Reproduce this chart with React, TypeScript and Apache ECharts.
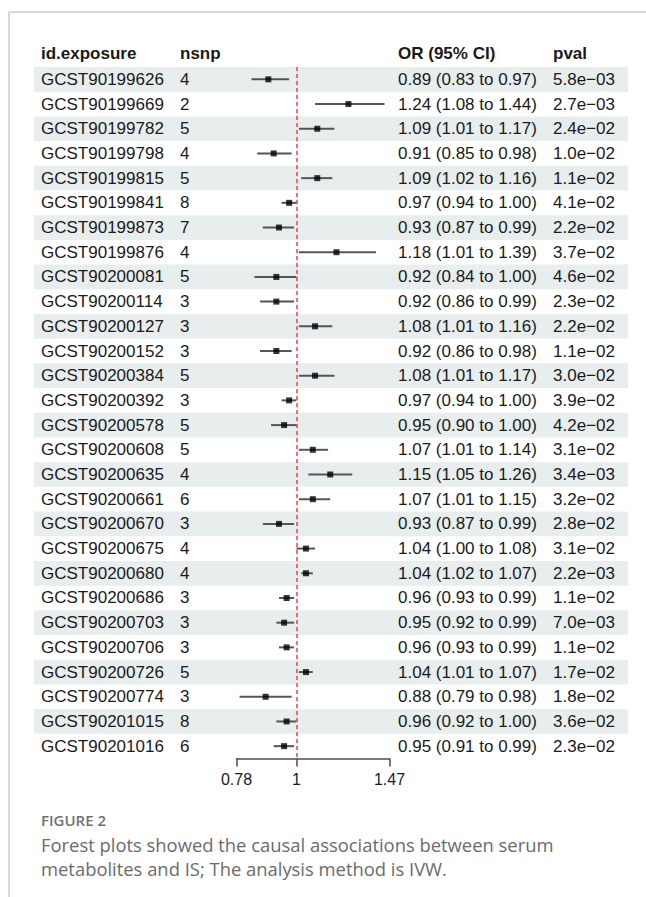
import React, { useEffect, useRef } from "react";
import * as echarts from "echarts";

const ids = [
  "GCST90199626", "GCST90199669", "GCST90199782", "GCST90199798", "GCST90199815",
  "GCST90199841", "GCST90199873", "GCST90199876", "GCST90200081", "GCST90200114",
  "GCST90200127", "GCST90200152", "GCST90200384", "GCST90200392", "GCST90200578",
  "GCST90200608", "GCST90200635", "GCST90200661", "GCST90200670", "GCST90200675",
  "GCST90200680", "GCST90200686", "GCST90200703", "GCST90200706", "GCST90200726",
  "GCST90200774", "GCST90201015", "GCST90201016",
];
const nsnp = [4, 2, 5, 4, 5, 8, 7, 4, 5, 3, 3, 3, 5, 3, 5, 5, 4, 6, 3, 4, 4, 3, 3, 3, 5, 3, 8, 6];
const orVals = [0.89, 1.24, 1.09, 0.91, 1.09, 0.97, 0.93, 1.18, 0.92, 0.92, 1.08, 0.92, 1.08, 0.97, 0.95, 1.07, 1.15, 1.07, 0.93, 1.04, 1.04, 0.96, 0.95, 0.96, 1.04, 0.88, 0.96, 0.95];
const lower = [0.83, 1.08, 1.01, 0.85, 1.02, 0.94, 0.87, 1.01, 0.84, 0.86, 1.01, 0.86, 1.01, 0.94, 0.90, 1.01, 1.05, 1.01, 0.87, 1.00, 1.02, 0.93, 0.92, 0.93, 1.01, 0.79, 0.92, 0.91];
const upper = [0.97, 1.44, 1.17, 0.98, 1.16, 1.00, 0.99, 1.39, 1.00, 0.99, 1.16, 0.98, 1.17, 1.00, 1.00, 1.14, 1.26, 1.15, 0.99, 1.08, 1.07, 0.99, 0.99, 0.99, 1.07, 0.98, 1.00, 0.99];
const pvals = [
  "5.8e\u221203", "2.7e\u221203", "2.4e\u221202", "1.0e\u221202", "1.1e\u221202",
  "4.1e\u221202", "2.2e\u221202", "3.7e\u221202", "4.6e\u221202", "2.3e\u221202",
  "2.2e\u221202", "1.1e\u221202", "3.0e\u221202", "3.9e\u221202", "4.2e\u221202",
  "3.1e\u221202", "3.4e\u221203", "3.2e\u221202", "2.8e\u221202", "3.1e\u221202",
  "2.2e\u221203", "1.1e\u221202", "7.0e\u221203", "1.1e\u221202", "1.7e\u221202",
  "1.8e\u221202", "3.6e\u221202", "2.3e\u221202",
];
const tickValues = [0.78, 1, 1.47];
const tickLabels = ["0.78", "1", "1.47"];
const headers = ["id.exposure", "nsnp", "OR (95% CI)", "pval"];
const figureLabel = "FIGURE 2";
const captionLines = [
  "Forest plots showed the causal associations between serum",
  "metabolites and IS; The analysis method is IVW.",
];

const TABLE_FONT = "Liberation Sans, Arial, Helvetica, sans-serif";
const CAPTION_FONT = "Open Sans, Noto Sans, sans-serif";
const colX = [41, 180, 398, 553];

export default function App() {
  const ref = useRef<HTMLDivElement>(null);

  useEffect(() => {
    if (!ref.current) return;
    const chart = echarts.init(ref.current, null, { renderer: "svg" });

    const logTicks = tickValues.map((v) => Math.log(v));
    const orText = orVals.map(
      (v, i) => `${v.toFixed(2)} (${lower[i].toFixed(2)} to ${upper[i].toFixed(2)})`
    );

    const option: any = {
      animation: false,
      backgroundColor: "#ffffff",
      grid: {
        left: 236.5,
        top: 67,
        width: 153,
        height: 691.5,
        containLabel: false,
        outerBoundsMode: "none",
      },
      xAxis: {
        type: "value",
        min: Math.log(0.78),
        max: Math.log(1.47),
        splitLine: { show: false },
        axisLine: { show: true, lineStyle: { color: "#4d4d4d", width: 1.5 } },
        axisTick: {
          show: true,
          length: 8,
          lineStyle: { color: "#4d4d4d", width: 1.5 },
          customValues: logTicks,
        },
        axisLabel: {
          customValues: logTicks,
          margin: 13,
          color: "#1a1a1a",
          fontSize: 16,
          fontFamily: TABLE_FONT,
          formatter: (val: number) => {
            let best = 0;
            logTicks.forEach((t, i) => {
              if (Math.abs(t - val) < Math.abs(logTicks[best] - val)) best = i;
            });
            return tickLabels[best];
          },
        },
      },
      yAxis: {
        type: "category",
        data: ids,
        inverse: true,
        show: false,
      },
      series: [
        {
          type: "custom",
          name: "rows",
          z: 1,
          clip: false,
          silent: true,
          data: ids.map((_, i) => [0, i]),
          encode: { x: 0, y: 1 },
          renderItem: (params: any, api: any) => {
            const idx = api.value(1);
            const c = api.coord([0, idx]);
            const h = api.size([0, 1])[1];
            const yc = c[1];
            const textStyle = (t: string, x: number) => ({
              type: "text",
              x,
              y: yc,
              style: {
                text: t,
                fill: "#1a1a1a",
                font: `17px ${TABLE_FONT}`,
                align: "left",
                verticalAlign: "middle",
              },
            });
            const children: any[] = [];
            if (idx % 2 === 0) {
              children.push({
                type: "rect",
                shape: { x: 34, y: yc - h / 2, width: 594, height: h },
                style: { fill: "#e8eded" },
              });
            }
            children.push(textStyle(ids[idx], colX[0]));
            children.push(textStyle(String(nsnp[idx]), colX[1]));
            children.push(textStyle(orText[idx], colX[2]));
            children.push(textStyle(pvals[idx], colX[3]));
            return { type: "group", children };
          },
        },
        {
          type: "custom",
          name: "ci",
          z: 3,
          silent: true,
          data: lower.map((l, i) => [Math.log(l), Math.log(upper[i]), i]),
          encode: { x: [0, 1], y: 2 },
          renderItem: (params: any, api: any) => {
            const p1 = api.coord([api.value(0), api.value(2)]);
            const p2 = api.coord([api.value(1), api.value(2)]);
            return {
              type: "line",
              shape: { x1: p1[0], y1: p1[1], x2: p2[0], y2: p2[1] },
              style: { stroke: "#555555", lineWidth: 2 },
            };
          },
        },
        {
          type: "scatter",
          name: "OR",
          z: 4,
          silent: true,
          symbol: "rect",
          symbolSize: 6,
          itemStyle: { color: "#000000" },
          data: orVals.map((v, i) => [Math.log(v), i]),
          markLine: {
            silent: true,
            symbol: ["none", "none"],
            label: { show: false },
            lineStyle: { color: "#ff3b3b", type: [4, 3], width: 1.5 },
            data: [{ xAxis: 0 }],
            z: 2,
          },
        },
      ],
      graphic: [
        {
          type: "line",
          shape: { x1: 9, y1: 12, x2: 646, y2: 12 },
          style: { stroke: "#cccccc", lineWidth: 1.5 },
        },
        {
          type: "line",
          shape: { x1: 9, y1: 12, x2: 9, y2: 897 },
          style: { stroke: "#cccccc", lineWidth: 1.5 },
        },
        ...headers.map((h, i) => ({
          type: "text",
          x: colX[i],
          y: 53,
          style: {
            text: h,
            fill: "#1a1a1a",
            font: `bold 17px ${TABLE_FONT}`,
            align: "left",
            verticalAlign: "middle",
          },
        })),
        {
          type: "text",
          x: 41,
          y: 820,
          style: {
            text: figureLabel,
            fill: "#707070",
            font: `600 15px ${CAPTION_FONT}`,
            align: "left",
            verticalAlign: "middle",
          },
        },
        ...captionLines.map((t, i) => ({
          type: "text",
          x: 41,
          y: 844.5 + i * 23.5,
          style: {
            text: t,
            fill: "#6b6b6b",
            font: `18.4px ${CAPTION_FONT}`,
            align: "left",
            verticalAlign: "middle",
          },
        })),
      ],
    };

    chart.setOption(option);
    return () => chart.dispose();
  }, []);

  return (
    <div
      ref={ref}
      style={{ position: "absolute", left: 0, top: 0, width: 646, height: 897, background: "#fff" }}
    />
  );
}
